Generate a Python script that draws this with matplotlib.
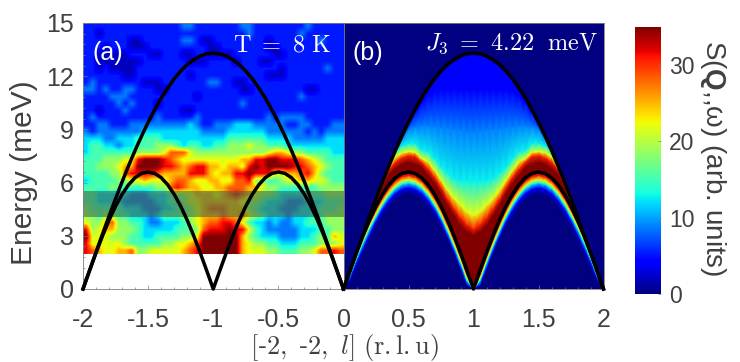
import numpy as np
import matplotlib
matplotlib.use('Agg')
import matplotlib.pyplot as plt
from matplotlib.ticker import MultipleLocator

plt.rcParams['font.family'] = ['Liberation Sans', 'DejaVu Sans']
plt.rcParams['mathtext.fontset'] = 'cm'
plt.rcParams['mathtext.bf'] = 'Liberation Sans:bold'
plt.rcParams['mathtext.rm'] = 'Liberation Sans'
plt.rcParams['axes.unicode_minus'] = False

GREY = '#404040'
W, H = 740, 362

# dispersion, l = 0 .. 1 (the other half is mirrored)
l_half = [0, .05, .1, .15, .2, .25, .3, .35, .4, .45, .5, .55, .6, .65, .7, .75, .8, .85, .9, .95, 1]
upper = [0, 1.04, 2.08, 3.10, 4.11, 5.09, 6.04, 6.95, 7.82, 8.63, 9.40, 10.1, 10.76, 11.33, 11.85, 12.29, 12.65, 12.93, 13.14, 13.26, 13.3]
lower = [0, 1.03, 2.04, 3.0, 3.88, 4.67, 5.34, 5.88, 6.28, 6.52, 6.6, 6.52, 6.28, 5.88, 5.34, 4.67, 3.88, 3.0, 2.04, 1.03, 0]

# panel (a): measured map, one char per cell, top row first
map_rows = [
    '1111111111111112211111112211111111211111',
    '1101111111111111111111111211111112111111',
    '1111111001111112210011111111011111112111',
    '1110111000111111111001111111001111111111',
    '1100000111001110011000011111100111111111',
    '1100000001111111000111101110011111111111',
    '1101000011111111111111111111110111111211',
    '1111110011111111011111111111000111111111',
    '1211111110001111111221100111111111111111',
    '2212112211100111111111110011111111001111',
    '1111222111111111101111111111111112111111',
    '1111121211101111111111112111111111111111',
    '1101112111111110011111111111111111111111',
    '1211111111121111121111111111212222111111',
    '1122111222222222321122233322222112211122',
    '2122222223333333332222333333222222121222',
    '3332233344443333333333444444333322222333',
    '3443323344455543443344555655444333333333',
    '3444444455556888655555555555677655444433',
    '444555669aaa98766666666677' + '99aa9998765444',
    '44555677aaaa99878997767769a9aaaa99876544',
    '44445589999877779997677' + '99a99966778975444',
    '3444455667666788766776688955445667766544',
    '4444544444455898776677888776554444445555',
    '4433333222333455677767898765543333444555',
    '4433332222233445667777776554333222333444',
    '5444443332223344567888777543332223334445',
    '5545544333234445567778778654333233344555',
    '6557855443223334567889986433232233444555',
    '9567755543333344458999a99643222223334455',
    'a666555443344445 56aaaaaa7543332223345476'.replace(' ', ''),
    '966666544444556678aaaaaa7655443334445556',
    '987667785566666789aaaaaa7666554445568898',
]

# panel (b): energy of each intensity level along l = 0 .. 1
tail_lo = [0, .4, 1.2, 2.0, 2.8, 3.5, 4.1, 4.65, 5.05, 5.3, 5.4, 5.3, 5.05, 4.65, 4.1, 3.5, 2.8, 2.0, 1.1, .2, 0]
blue_lo = [0, .6, 1.5, 2.3, 3.1, 3.85, 4.5, 5.0, 5.4, 5.64, 5.72, 5.64, 5.4, 5.0, 4.46, 3.8, 3.0, 2.15, 1.2, .25, 0]
cyan_lo = [0, .8, 1.75, 2.6, 3.4, 4.1, 4.75, 5.28, 5.68, 5.92, 6.0, 5.92, 5.68, 5.28, 4.74, 4.07, 3.28, 2.42, 1.5, .5, 0]
yell_lo = [0, .9, 1.9, 2.8, 3.6, 4.3, 4.93, 5.46, 5.86, 6.1, 6.18, 6.1, 5.86, 5.46, 4.92, 4.25, 3.46, 2.6, 1.66, .65, 0]
red_lo = [0, .95, 1.97, 2.9, 3.72, 4.47, 5.14, 5.68, 6.08, 6.32, 6.4, 6.32, 6.08, 5.68, 5.14, 4.47, 3.68, 2.8, 1.84, .83, 0]
dark_hi = [0, 1.035, 2.05, 3.02, 3.9, 4.75, 5.75, 6.5, 6.8, 7.05, 7.15, 7.05, 6.9, 6.43, 5.96, 5.4, 4.74, 4.17, 3.6, 3.23, 3.05]
red_hi = [0, 1.037, 2.06, 3.04, 3.95, 4.9, 5.95, 6.75, 7.18, 7.42, 7.55, 7.5, 7.18, 6.8, 6.33, 5.77, 5.11, 4.55, 4.04, 3.65, 3.4]
yell_hi = [0, 1.038, 2.07, 3.06, 4.05, 5.05, 6.0, 6.93, 7.46, 7.68, 7.75, 7.72, 7.37, 7.18, 6.7, 6.15, 5.58, 5.11, 4.74, 4.36, 4.17]
cyan_hi = [0, 1.039, 2.075, 3.08, 4.09, 5.08, 6.03, 6.94, 7.8, 8.1, 8.2, 8.2, 7.84, 7.74, 7.37, 6.9, 6.55, 6.25, 6.1, 6.1, 6.1]
sky_hi = [0, 1.04, 2.08, 3.09, 4.10, 5.09, 6.04, 6.95, 7.82, 8.5, 9.0, 9.15, 9.2, 9.2, 9.15, 9.1, 9.05, 9.0, 8.95, 8.9, 8.85]
blue_hi = [0, 1.04, 2.08, 3.1, 4.11, 5.09, 6.04, 6.95, 7.82, 8.6, 9.35, 10.0, 10.5, 10.9, 11.1, 11.2, 11.2, 11.2, 11.2, 11.2, 11.2]
edge_hi = [.3, 1.5, 2.7, 3.6, 4.4, 5.2, 6.1, 7.0, 7.87, 8.68, 9.45, 10.15, 10.81, 11.38, 11.9, 12.34, 12.7, 12.98, 13.19, 13.31, 13.35]
bottom = [0] * 21
top = [15] * 21

# S value on each of the rows above, bottom to top
model_levels = [0, 0, 3.9, 12.7, 22, 30.5, 35, 35, 30.5, 22, 12.7, 8.75, 3.9, 3.9, 0, 0]
model_rows = [bottom, tail_lo, blue_lo, cyan_lo, yell_lo, red_lo, lower, dark_hi, red_hi,
              yell_hi, cyan_hi, sky_hi, blue_hi, upper, edge_hi, top]


def box(x0, y0, x1, y1):
    return [x0 / W, 1 - y1 / H, (x1 - x0) / W, (y1 - y0) / H]


def mirror(vals):
    return list(vals) + list(vals[-2::-1])


def label(px, py, s, **kw):
    # text placed in picture pixels
    return fig.text(px / W, 1 - py / H, s, **kw)


full_l = l_half + [2 - v for v in l_half[-2::-1]]
full_up = mirror(upper)
full_lo = mirror(lower)

fig = plt.figure(figsize=(W / 100, H / 100), dpi=100)
ax1 = fig.add_axes(box(83, 23, 343.5, 289))
ax2 = fig.add_axes(box(343.5, 23, 603.5, 289))
cax = fig.add_axes(box(635, 27, 661, 294))

# panel a
grid = np.array([[2 + int(c, 16) * 3.3 for c in r[:40].ljust(40, r[-1])] for r in map_rows])
ax1.imshow(grid, extent=(-2, 0, 2, 15), aspect='auto', cmap='jet', vmin=0, vmax=35,
           interpolation='bilinear')
ax1.axhspan(4.08, 5.55, color=(.27, .4, .27), alpha=.6, lw=0)
ax1.plot([v - 2 for v in full_l], full_up, color='k', lw=2.5, clip_on=False, zorder=5)
ax1.plot([v - 2 for v in full_l], full_lo, color='k', lw=2.5, clip_on=False, zorder=5)
ax1.set_xlim(-2, 0)
ax1.set_ylim(0, 15)

# panel b
E = np.array([mirror(r) for r in model_rows])
X = np.tile(full_l, (len(model_rows), 1))
S = np.tile(np.array(model_levels, dtype=float)[:, None], (1, len(full_l)))
ax2.pcolormesh(X, E, S, shading='gouraud', cmap='jet', vmin=0, vmax=35)
ax2.plot(full_l, full_up, color='k', lw=2.5, clip_on=False, zorder=5)
ax2.plot(full_l, full_lo, color='k', lw=2.5, clip_on=False, zorder=5)
ax2.set_xlim(0, 2)
ax2.set_ylim(0, 15)

for ax in (ax1, ax2):
    for s in ax.spines.values():
        s.set_color('#808080')
        s.set_linewidth(.6)
    ax.xaxis.set_minor_locator(MultipleLocator(.1))
    ax.yaxis.set_minor_locator(MultipleLocator(.6))
    ax.tick_params(which='major', direction='in', length=3, width=.5, color='#808080',
                   labelsize=18, labelcolor=GREY)
    ax.tick_params(which='minor', direction='in', length=1.5, width=.5, color='#808080')

ax1.set_xticks([-2, -1.5, -1, -.5, 0])
ax1.set_xticklabels(['-2', '-1.5', '-1', '-0.5', '0'])
ax1.set_yticks([0, 3, 6, 9, 12, 15])
ax1.tick_params(axis='x', pad=13.5)
ax1.tick_params(axis='y', pad=6.5)

ax2.set_xticks([.5, 1, 1.5, 2])
ax2.set_xticklabels(['0.5', '1', '1.5', '2'])
ax2.set_yticks([])
ax2.yaxis.set_minor_locator(plt.NullLocator())
ax2.tick_params(axis='x', pad=13.5)

label(24, 173, 'Energy (meV)', rotation=90, color=GREY, fontsize=21.5, ha='center', va='center')
label(93, 60, '(a)', color='w', fontsize=18)
label(331, 52, r'$\mathrm{T\ =\ 8\ K}$', color='w', fontsize=17.5, ha='right')
label(353, 60, '(b)', color='w', fontsize=18)
label(598, 50, r'$J_3\ =\ \mathrm{4.22\ \ meV}$', color='w', fontsize=17.5, ha='right')
label(345, 354, r'$[$-$2,\ $-$2,\ l]$ $\mathrm{(r.l.u)}$', color=GREY, fontsize=19, ha='center')

# colour bar
cax.imshow(np.linspace(35, 0, 256)[:, None], extent=(0, 1, 0, 35), aspect='auto', cmap='jet',
           vmin=0, vmax=35)
cax.set_xticks([])
cax.yaxis.tick_right()
cax.set_yticks([0, 10, 20, 30])
cax.tick_params(direction='in', length=2, width=.5, color='#808080', labelsize=16.5,
                labelcolor=GREY, pad=6)
for s in cax.spines.values():
    s.set_visible(False)
label(713, 158, r'S($\mathbf{Q}$,,ω) (arb. units)', rotation=270, color=GREY, fontsize=20,
      ha='center', va='center', math_fontfamily='custom')

fig.savefig('out.png', dpi=100)
